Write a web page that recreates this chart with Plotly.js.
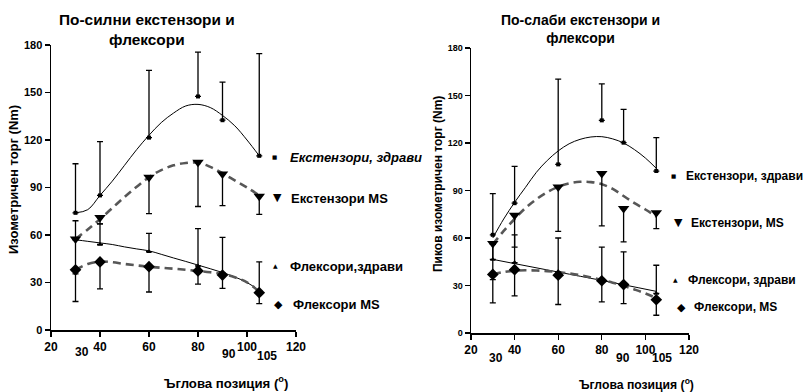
<!DOCTYPE html>
<html>
<head>
<meta charset="utf-8">
<script src="https://cdn.plot.ly/plotly-3.0.1.min.js"></script>
<style>html,body{margin:0;padding:0;background:#fff;}#chart{width:804px;height:392px;}</style>
</head>
<body>
<div id="chart"></div>
<script>
// ---------- data ----------
const angles = [30, 40, 60, 80, 90, 105];
const fitAngles = [30, 35, 40, 45, 50, 55, 60, 65, 70, 75, 80, 85, 90, 95, 100, 105];

// Left panel: stronger extensors and flexors
const L_extHealthy = [74, 85, 121.5, 147.5, 132.5, 110];
const L_extHealthyHi = [105, 119, 164, 175.5, 156.5, 174.5];
const L_extMS = [57.5, 71, 96.5, 106, 98.5, 84.5];
const L_extMSLo = [35.5, 67, 73.5, 78, 78.5, 73];
const L_flexHealthy = [57, 54, 49.5, 40.5, 36, 24.5];
const L_flexHealthyHi = [69, 67, 61, 64, 58.5, 43];
const L_flexMS = [38, 43, 40, 37.3, 34.7, 23.6];
const L_flexMSLo = [18, 26, 24, 29, 26.3, 16.6];

const L_fitExtHealthy = [74, 76, 85, 94, 104, 114, 123, 131, 137, 141.5, 142.5, 140.5, 135.5, 129, 120, 110];
const L_fitExtMS = [57.5, 63.5, 70, 77, 84, 90.5, 96.5, 101, 104, 105.5, 105.7, 103, 99, 94.5, 90, 85];
const L_fitFlexHealthy = [57, 56, 55, 54, 52.5, 51.2, 50, 47.8, 45.5, 43.3, 41, 38.7, 36.3, 33.5, 30, 25];
const L_fitFlexMS = [38, 41.7, 43.2, 42.8, 41.7, 40.8, 40, 39.3, 38.7, 38, 37.3, 36.5, 35.4, 33.3, 30.1, 24.2];

// Right panel: weaker extensors and flexors
const R_extHealthy = [62, 82, 106.5, 134.3, 120.2, 102.3];
const R_extHealthyHi = [88, 105.3, 160.4, 157.3, 141.3, 123.4];
const R_extMS = [56.5, 74.3, 92.2, 100.7, 78.6, 76];
const R_extMSLo = [33.7, 54.3, 64.2, 67.6, 57.5, 65.9];
const R_flexHealthy = [46.5, 44.5, 38.5, 33.5, 30.5, 25];
const R_flexHealthyHi = [56, 62, 60, 54.3, 51.2, 42.8];
const R_flexMS = [37, 40, 36.5, 33, 30.6, 21];
const R_flexMSLo = [19, 23.4, 18, 19.6, 18.5, 11.2];

const R_fitExtHealthy = [60, 72, 82.5, 92, 101.5, 109, 115, 119.5, 122.3, 123.8, 124, 122.6, 120, 115.8, 110.5, 104];
const R_fitExtMS = [56, 64.5, 72, 79, 84.5, 89, 92.3, 94.5, 95.5, 95.3, 94, 91, 86.5, 82, 78, 73.5];
const R_fitFlexHealthyX = [30, 60, 80, 105];
const R_fitFlexHealthy = [46.5, 38.5, 33.2, 26.3];
const R_fitFlexMS = [37, 38.5, 39.3, 39.6, 39.5, 39.1, 38.5, 37.6, 36.5, 35.1, 33.5, 31.8, 29.8, 27.5, 25, 22];

const xTickVals = [20, 40, 60, 80, 100, 120];
const extraTickLabels = ['30', '90', '105'];

// ---------- helpers ----------
const FONT = 'Liberation Sans, Arial, sans-serif';
const DASHCOL = '#575757';
function diff(a, b) { return a.map((v, i) => v - b[i]); }
function zeros(n) { return new Array(n).fill(0); }

function markerTrace(x, y, errUp, errDn, symbol, size, xa, ya) {
  return {
    x: x, y: y, type: 'scatter', mode: 'markers', xaxis: xa, yaxis: ya,
    marker: { symbol: symbol, size: size, color: '#000' },
    error_y: { type: 'data', symmetric: false, array: errUp, arrayminus: errDn,
      color: '#000', thickness: 1.3, width: 3 },
    showlegend: false, hoverinfo: 'skip'
  };
}
function curveTrace(x, y, dashed, xa, ya) {
  return {
    x: x, y: y, type: 'scatter', mode: 'lines', xaxis: xa, yaxis: ya,
    line: dashed ? { color: DASHCOL, width: 2.6, dash: '8px,5px', shape: 'spline', smoothing: 1 }
                 : { color: '#000', width: 1, shape: 'spline', smoothing: 1 },
    showlegend: false, hoverinfo: 'skip'
  };
}

const n = angles.length;
const traces = [
  curveTrace(fitAngles, L_fitExtHealthy, false, 'x', 'y'),
  curveTrace(fitAngles, L_fitExtMS, true, 'x', 'y'),
  curveTrace(fitAngles, L_fitFlexHealthy, false, 'x', 'y'),
  curveTrace(fitAngles, L_fitFlexMS, true, 'x', 'y'),
  markerTrace(angles, L_extHealthy, diff(L_extHealthyHi, L_extHealthy), zeros(n), 'square', 4, 'x', 'y'),
  markerTrace(angles, L_extMS, zeros(n), diff(L_extMS, L_extMSLo), 'triangle-down', 10, 'x', 'y'),
  markerTrace(angles, L_flexHealthy, diff(L_flexHealthyHi, L_flexHealthy), zeros(n), 'triangle-up', 5, 'x', 'y'),
  markerTrace(angles, L_flexMS, zeros(n), diff(L_flexMS, L_flexMSLo), 'diamond', 9, 'x', 'y'),

  curveTrace(fitAngles, R_fitExtHealthy, false, 'x2', 'y2'),
  curveTrace(fitAngles, R_fitExtMS, true, 'x2', 'y2'),
  curveTrace(R_fitFlexHealthyX, R_fitFlexHealthy, false, 'x2', 'y2'),
  curveTrace(fitAngles, R_fitFlexMS, true, 'x2', 'y2'),
  markerTrace(angles, R_extHealthy, diff(R_extHealthyHi, R_extHealthy), zeros(n), 'square', 4, 'x2', 'y2'),
  markerTrace(angles, R_extMS, zeros(n), diff(R_extMS, R_extMSLo), 'triangle-down', 10, 'x2', 'y2'),
  markerTrace(angles, R_flexHealthy, diff(R_flexHealthyHi, R_flexHealthy), zeros(n), 'triangle-up', 5, 'x2', 'y2'),
  markerTrace(angles, R_flexMS, zeros(n), diff(R_flexMS, R_flexMSLo), 'diamond', 9, 'x2', 'y2')
];

function xAxis(domain, anchor, tickSize) {
  return {
    domain: domain, anchor: anchor, range: [20, 120], tickvals: xTickVals,
    ticks: 'outside', ticklen: 5, tickwidth: 1.3, tickcolor: '#000',
    showline: true, linecolor: '#000', linewidth: 1.5, showgrid: false, zeroline: false,
    tickfont: { family: FONT, size: tickSize, color: '#000', weight: 'bold' }, fixedrange: true
  };
}
function yAxis(domain, anchor, tickSize) {
  return {
    domain: domain, anchor: anchor, range: [0, 180], tick0: 0, dtick: 30,
    ticks: 'outside', ticklen: 5, tickwidth: 1.3, tickcolor: '#000',
    showline: true, linecolor: '#000', linewidth: 1.5, showgrid: false, zeroline: false,
    tickfont: { family: FONT, size: tickSize, color: '#000', weight: 'bold' }, fixedrange: true
  };
}

const W = 804, H = 392;
function px(x) { return x / W; }
function py(y) { return 1 - y / H; }
function ann(text, x, y, size, opts) {
  return Object.assign({
    text: text, x: px(x), y: py(y), xref: 'paper', yref: 'paper', showarrow: false,
    xanchor: 'center', yanchor: 'middle',
    font: { family: FONT, size: size, color: '#000', weight: 'bold' }
  }, opts || {});
}
function sym(ch, x, y, size) {
  return { text: ch, x: px(x), y: py(y), xref: 'paper', yref: 'paper', showarrow: false,
    xanchor: 'center', yanchor: 'middle', font: { family: 'DejaVu Sans', size: size, color: '#000' } };
}

const annotations = [
  // titles
  ann('По-силни екстензори и<br>флексори', 147, 29.5, 15.4),
  ann('По-слаби екстензори и<br>флексори', 580, 29, 14),
  // axis titles
  ann('Ъглова позиция (<sup>o</sup>)', 226, 382, 13.2),
  ann('Ъглова позиция (<sup>o</sup>)', 636, 383.5, 12.2),
  ann('Изометричен торг (Nm)', 14, 180, 13, { textangle: -90 }),
  ann('Пиков изометричен торг (Nm)', 438, 184, 12, { textangle: -90 }),
  // extra tick labels
  ann(extraTickLabels[0], 82, 352, 12),
  ann(extraTickLabels[1], 229, 353.5, 12),
  ann(extraTickLabels[2], 267, 356, 12),
  ann(extraTickLabels[0], 496, 358, 12),
  ann(extraTickLabels[1], 623, 358, 12),
  ann(extraTickLabels[2], 662, 358, 12),
  // left legend
  sym('■', 274.5, 156.5, 5.5),
  ann('<i>Екстензори, здрави</i>', 288, 157, 13, { xanchor: 'left' }),
  sym('▼', 277, 198, 11),
  ann('Екстензори MS', 289, 198.5, 13, { xanchor: 'left' }),
  sym('▲', 275.5, 265.5, 6),
  ann('Флексори,здрави', 288, 266, 13, { xanchor: 'left' }),
  sym('◆', 278.5, 304.5, 11),
  ann('Флексори MS', 291, 304.5, 13, { xanchor: 'left' }),
  // right legend
  sym('■', 673.5, 175.5, 5.5),
  ann('Екстензори, здрави', 684, 176, 12, { xanchor: 'left' }),
  sym('▼', 678.5, 222.5, 11),
  ann('Екстензори, MS', 689, 223, 12, { xanchor: 'left' }),
  sym('▲', 675.5, 279.5, 6),
  ann('Флексори, здрави', 686, 280, 12, { xanchor: 'left' }),
  sym('◆', 681, 307, 11),
  ann('Флексори, MS', 692, 307, 12, { xanchor: 'left' })
];

const layout = {
  width: W, height: H,
  margin: { l: 0, r: 0, t: 0, b: 0 },
  paper_bgcolor: '#fff', plot_bgcolor: '#fff',
  showlegend: false,
  xaxis: xAxis([51 / W, 296 / W], 'y', 12),
  yaxis: yAxis([1 - 330 / H, 1 - 45 / H], 'x', 11),
  xaxis2: xAxis([471 / W, 689 / W], 'y2', 12),
  yaxis2: yAxis([1 - 333 / H, 1 - 48 / H], 'x2', 9),
  annotations: annotations
};

Plotly.newPlot('chart', traces, layout, { displayModeBar: false, staticPlot: true });
</script>
</body>
</html>
